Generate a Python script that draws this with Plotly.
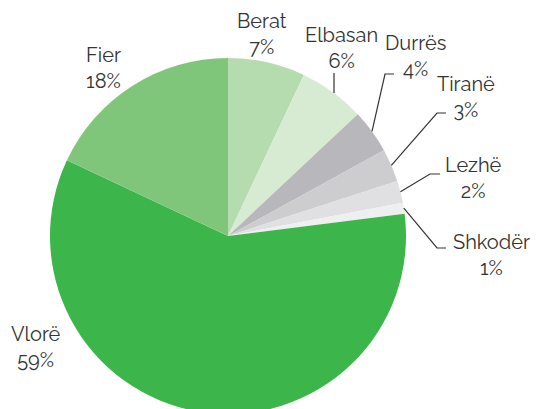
import math
import plotly.graph_objects as go

# ---- data ----
regions = ["Berat", "Elbasan", "Durrës", "Tiranë", "Lezhë", "Shkodër", "Vlorë", "Fier"]
shares = [7, 6, 4, 3, 2, 1, 59, 18]
colors = ["#b4dcae", "#d7ebd3", "#b8b8bc", "#cdcdd0", "#e0e0e2", "#eeeff1", "#3cb64b", "#80c67a"]

# ---- layout / style (pixels) ----
W, H = 536, 414
CX, CY, R = 228, 236, 178
FONT = dict(family="Raleway, Lato, 'Open Sans', sans-serif", size=20, color="#333333", weight=400)
# label centre (px) per region
label_pos = {
    "Berat": (262, 34), "Elbasan": (341, 48), "Durrës": (415, 56), "Tiranë": (466, 97),
    "Lezhë": (473, 178), "Shkodër": (491, 255), "Vlorë": (36, 347), "Fier": (103, 68),
}
leaders = {  # region -> (elbow point, end point) in px
    "Durrës": ((385, 74), (394, 74)),
    "Tiranë": ((437, 113), (446, 113)),
    "Lezhë": ((430, 174), (440, 174)),
    "Shkodër": ((437, 248), (446, 248)),
}

def px(x):
    return x / W

def py(y):
    return 1 - y / H

fig = go.Figure(go.Pie(
    labels=regions, values=shares, sort=False, direction="clockwise", rotation=0,
    marker=dict(colors=colors, line=dict(color="white", width=0)),
    textinfo="none", hoverinfo="label+percent", showlegend=False,
    domain=dict(x=[px(CX - R), px(CX + R)], y=[py(CY + R), py(CY - R)]),
))

total = sum(shares)
cum = 0
annotations = []
shapes = []
for name, v in zip(regions, shares):
    mid = (cum + v / 2) / total * 2 * math.pi
    cum += v
    rim = (CX + R * math.sin(mid), CY - R * math.cos(mid))
    lx, ly = label_pos[name]
    annotations.append(dict(x=px(lx), y=py(ly), xref="paper", yref="paper",
                            xanchor="center", yanchor="middle",
                            text=f"{name}<br>{round(v / total * 100)}%", showarrow=False,
                            font=FONT, align="center"))
    if name in leaders:
        (ex, ey), (fx, fy) = leaders[name]
        shapes.append(dict(type="path", xref="paper", yref="paper",
                           path=f"M {px(rim[0])},{py(rim[1])} L {px(ex)},{py(ey)} L {px(fx)},{py(fy)}",
                           line=dict(color="#333333", width=1.2)))

# Elbasan short vertical tick
shapes.append(dict(type="line", xref="paper", yref="paper", x0=px(334), x1=px(334), y0=py(73), y1=py(93),
                   line=dict(color="#333333", width=1.2)))

fig.update_layout(width=W, height=H, margin=dict(l=0, r=0, t=0, b=0),
                  paper_bgcolor="white", plot_bgcolor="white",
                  annotations=annotations, shapes=shapes)
fig.write_html("out.html", config={"displayModeBar": False},
               post_script="document.body.style.margin='0';document.body.style.overflow='hidden';")
